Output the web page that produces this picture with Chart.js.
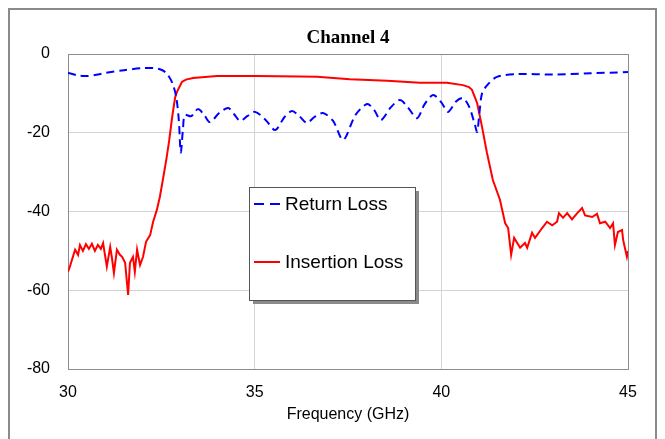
<!DOCTYPE html>
<html lang="en">
<head>
  <meta charset="UTF-8">
  <title>Channel 4</title>
  <script src="https://cdn.jsdelivr.net/npm/chart.js"></script>
  <style>
    html, body { margin: 0; padding: 0; background: #fff; }
    #wrap { width: 665px; height: 439px; }
  </style>
</head>
<body>
  <div id="wrap"><canvas id="chart" width="665" height="439"></canvas></div>

  <script>
    // Return loss (blue dashed), frequency in GHz / dB
    const rlFreq = [30.0, 30.3, 30.5, 30.8, 31.0, 31.5, 32.0, 32.3, 32.5, 32.65, 32.8, 32.9, 32.97, 33.02, 33.08,
      33.13, 33.3, 33.48, 33.65, 33.8, 34.05, 34.29, 34.45, 34.61, 34.8, 35.01, 35.3, 35.55, 35.8, 36.0,
      36.2, 36.4, 36.6, 36.83, 37.1, 37.37, 37.7, 38.01, 38.2, 38.38, 38.65, 38.89, 39.1, 39.35, 39.55,
      39.78, 40.0, 40.18, 40.4, 40.58, 40.75, 40.9, 40.96, 41.02, 41.09, 41.23, 41.49, 42.03, 43.0, 44.0, 45.0];
    const rlDb = [-4.8, -5.5, -5.6, -5.2, -4.8, -4.1, -3.6, -3.6, -4.0, -5.0, -7.5, -11, -17, -25, -19,
      -15.5, -15.8, -14, -15.5, -17.3, -15, -13.7, -15.3, -17, -15.8, -14.7, -16.8, -19.3, -16, -14.5,
      -15.8, -17.5, -16, -15, -17, -21.8, -15.5, -12.7, -14.2, -16.8, -13.5, -11.7, -13.5, -16.3, -12.8,
      -10.4, -12.3, -14.7, -12, -11.2, -13.5, -18, -19.8, -15, -10, -7.9, -5.8, -5.1, -5.2, -4.9, -4.6];

    // Insertion loss (red solid)
    const ilFreq = [30.0, 30.05, 30.19, 30.27, 30.32, 30.4, 30.48, 30.56, 30.64, 30.72, 30.8, 30.88, 30.94, 30.99,
      31.04, 31.13, 31.18, 31.23, 31.31, 31.39, 31.45, 31.53, 31.61, 31.66, 31.74, 31.79, 31.85, 31.93,
      32.01, 32.09, 32.2, 32.28, 32.38, 32.46, 32.54, 32.63, 32.71, 32.79, 32.87, 32.92, 33.05, 33.16,
      33.35, 33.99, 35.06, 36.21, 36.67, 37.55, 38.55, 39.43, 40.15, 40.58, 40.74, 40.82, 40.9, 40.96,
      41.09, 41.22, 41.38, 41.57, 41.71, 41.79, 41.87, 41.95, 42.11, 42.24, 42.3, 42.43, 42.51, 42.7,
      42.83, 42.97, 43.1, 43.15, 43.26, 43.37, 43.5, 43.64, 43.77, 43.85, 44.04, 44.17, 44.25, 44.39,
      44.52, 44.6, 44.65, 44.73, 44.84, 44.87, 44.97, 45.0];
    const ilDb = [-55.3, -54, -49.7, -51, -48.5, -50, -48.3, -49.5, -48.2, -50, -48.5, -49.5, -48, -51,
      -54, -49, -52, -55.6, -49.7, -51, -51.5, -53, -61.2, -53, -51.5, -55.3, -49.7, -53.6,
      -51.5, -47.7, -46, -42.6, -39.6, -36.3, -32, -27, -22, -16, -11, -9.6, -7.1, -6.5,
      -6.1, -5.6, -5.6, -5.7, -5.8, -6.4, -6.8, -7.3, -7.3, -7.9, -8.4, -9.1, -11, -12.5,
      -18.5, -25, -32, -37, -43, -44.2, -51, -46.7, -49.2, -48, -49.2, -45.4, -46.7, -44.2,
      -42.6, -43.5, -42.6, -40.4, -41.6, -40.4, -42, -40.4, -39.1, -41, -41.4, -40.6, -43, -42.6,
      -44.2, -43, -48.5, -45.2, -44.7, -47.2, -51.5, -50];

    const xTicks = [30, 35, 40, 45];
    const yTicks = [0, -20, -40, -60, -80];

    const toPoints = (xs, ys) => xs.map((x, i) => ({ x: x, y: ys[i] }));

    // frame, plot border, title and the inset legend
    const decor = {
      id: 'decor',
      beforeDraw(chart) {
        const c = chart.ctx;
        c.save();
        c.fillStyle = '#fff';
        c.fillRect(0, 0, chart.width, chart.height);
        c.strokeStyle = '#8a8a8a';
        c.lineWidth = 2;
        c.strokeRect(9, 9, 647, 440);
        c.restore();
      },
      beforeDatasetsDraw(chart) {
        const a = chart.chartArea;
        const c = chart.ctx;
        c.save();
        c.strokeStyle = '#8c8c8c';
        c.lineWidth = 1;
        c.strokeRect(Math.round(a.left) + 0.5, Math.round(a.top) + 0.5,
          Math.round(a.right - a.left), Math.round(a.bottom - a.top));
        c.fillStyle = '#000';
        c.font = 'bold 19px "Liberation Serif", "Times New Roman", serif';
        c.textAlign = 'center';
        c.textBaseline = 'middle';
        c.fillText('Channel 4', (a.left + a.right) / 2, 38);
        c.restore();
      },
      afterDraw(chart) {
        const c = chart.ctx;
        const bx = 249, by = 187, bw = 166, bh = 113;
        c.save();
        c.fillStyle = '#8a8a8a';
        c.fillRect(bx + 4, by + 4, bw, bh);
        c.fillStyle = '#fff';
        c.fillRect(bx, by, bw, bh);
        c.strokeStyle = '#555';
        c.lineWidth = 1;
        c.strokeRect(bx + 0.5, by + 0.5, bw, bh);
        c.font = '19px "Liberation Sans", Arial, sans-serif';
        c.textBaseline = 'middle';
        c.textAlign = 'left';
        const rows = [by + 17, by + 75];
        chart.data.datasets.forEach((ds, i) => {
          const y = rows[i];
          c.strokeStyle = ds.borderColor;
          c.lineWidth = 2;
          c.setLineDash(ds.borderDash ? [10, 6] : []);
          c.beginPath();
          c.moveTo(bx + 5, y);
          c.lineTo(bx + 31, y);
          c.stroke();
          c.setLineDash([]);
          c.fillStyle = '#000';
          c.fillText(ds.label, bx + 36, y + 1);
        });
        c.restore();
      }
    };

    const ctx = document.getElementById('chart').getContext('2d');
    new Chart(ctx, {
      type: 'line',
      data: {
        datasets: [{
          label: 'Return Loss',
          data: toPoints(rlFreq, rlDb),
          borderColor: '#0000ff',
          borderWidth: 2,
          borderDash: [8, 5],
          pointRadius: 0,
          tension: 0.3,
          fill: false
        }, {
          label: 'Insertion Loss',
          data: toPoints(ilFreq, ilDb),
          borderColor: '#ff0000',
          borderWidth: 2,
          pointRadius: 0,
          tension: 0,
          fill: false
        }]
      },
      options: {
        responsive: false,
        animation: false,
        layout: { padding: { top: 54, right: 37, bottom: 0, left: 0 } },
        plugins: {
          legend: { display: false },
          title: { display: false },
          tooltip: { enabled: false }
        },
        scales: {
          x: {
            type: 'linear',
            min: 30,
            max: 45,
            afterBuildTicks: (s) => { s.ticks = xTicks.map(v => ({ value: v })); },
            afterFit: (s) => { s.height = 70; },
            ticks: {
              color: '#000',
              padding: 14,
              font: { family: '"Liberation Sans", Arial, sans-serif', size: 16 }
            },
            grid: {
              drawTicks: false,
              color: (c) => (c.tick && (c.tick.value === 30 || c.tick.value === 45)) ? 'rgba(0,0,0,0)' : '#d4d4d4'
            },
            border: { display: false },
            title: {
              display: true,
              text: 'Frequency (GHz)',
              color: '#000',
              padding: { top: 0, bottom: 15 },
              font: { family: '"Liberation Sans", Arial, sans-serif', size: 16 }
            }
          },
          y: {
            min: -80,
            max: 0,
            afterBuildTicks: (s) => { s.ticks = yTicks.map(v => ({ value: v })); },
            afterFit: (s) => { s.width = 68; },
            ticks: {
              color: '#000',
              padding: 18,
              font: { family: '"Liberation Sans", Arial, sans-serif', size: 16 }
            },
            grid: {
              drawTicks: false,
              color: (c) => (c.tick && (c.tick.value === 0 || c.tick.value === -80)) ? 'rgba(0,0,0,0)' : '#d4d4d4'
            },
            border: { display: false }
          }
        }
      },
      plugins: [decor]
    });
  </script>
</body>
</html>
